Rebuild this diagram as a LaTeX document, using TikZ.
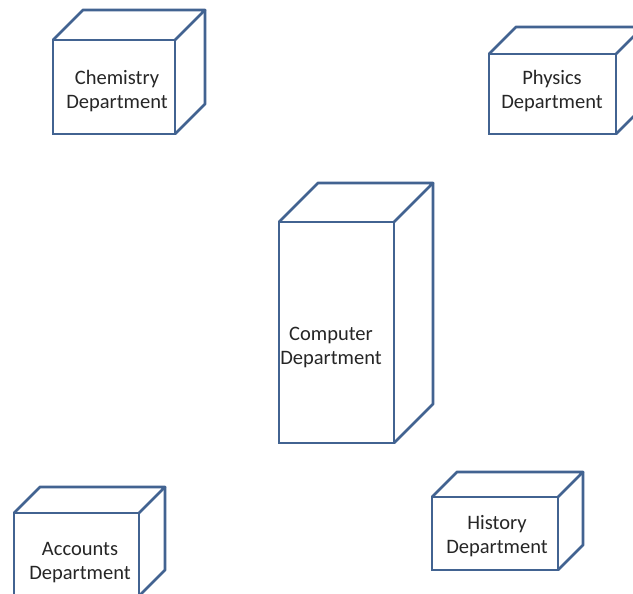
\documentclass[tikz,border=0pt]{standalone}
\usepackage{fontspec}
\setmainfont{Carlito}
\definecolor{edge}{RGB}{66,99,145}
\tikzset{
  face/.style={draw=edge, line width=2.8pt, inner sep=0pt, outer sep=0pt, fill=white},
  rim/.style={draw=edge, line width=2.8pt, line join=round},
  label/.style={align=center, font=\fontsize{20.5pt}{24pt}\selectfont, text=black!85, inner sep=0pt}
}
\newcommand{\drawcube}[6]{%
  % #1 name, #2 x1, #3 y1, #4 x2, #5 y2, #6 depth
  \node[face, minimum width={(#4-#2)*1pt}, minimum height={(#5-#3)*1pt}] (#1) at ({(#2+#4)/2},{(#3+#5)/2}) {};
  \draw[rim] (#1.north west) -- ([shift={(#6,-#6)}]#1.north west) -- ([shift={(#6,-#6)}]#1.north east) -- (#1.north east);
  \draw[rim] ([shift={(#6,-#6)}]#1.north east) -- ([shift={(#6,-#6)}]#1.south east) -- (#1.south east);
}
\begin{document}
\begin{tikzpicture}[x=1pt,y=-1pt]
\useasboundingbox (0,0) rectangle (633,594);
\clip (0,0) rectangle (633,594);
\fill[white] (0,0) rectangle (633,594);
\drawcube{chem}{53}{40}{175}{134}{30}
\drawcube{phys}{489}{54}{616}{134}{27}
\drawcube{comp}{279}{222}{394}{443}{39}
\drawcube{acc}{14}{513}{139}{596}{26}
\drawcube{hist}{432}{497}{558}{570}{25}
\node[label] (chemT) at (117,91) {Chemistry\\Department};
\node[label] (physT) at (552,91) {Physics\\Department};
\node[label] (compT) at (331,347) {Computer\\Department};
\node[label] (accT) at (80,563) {Accounts\\Department};
\node[label] (histT) at (497,536) {History\\Department};
\end{tikzpicture}
\end{document}
